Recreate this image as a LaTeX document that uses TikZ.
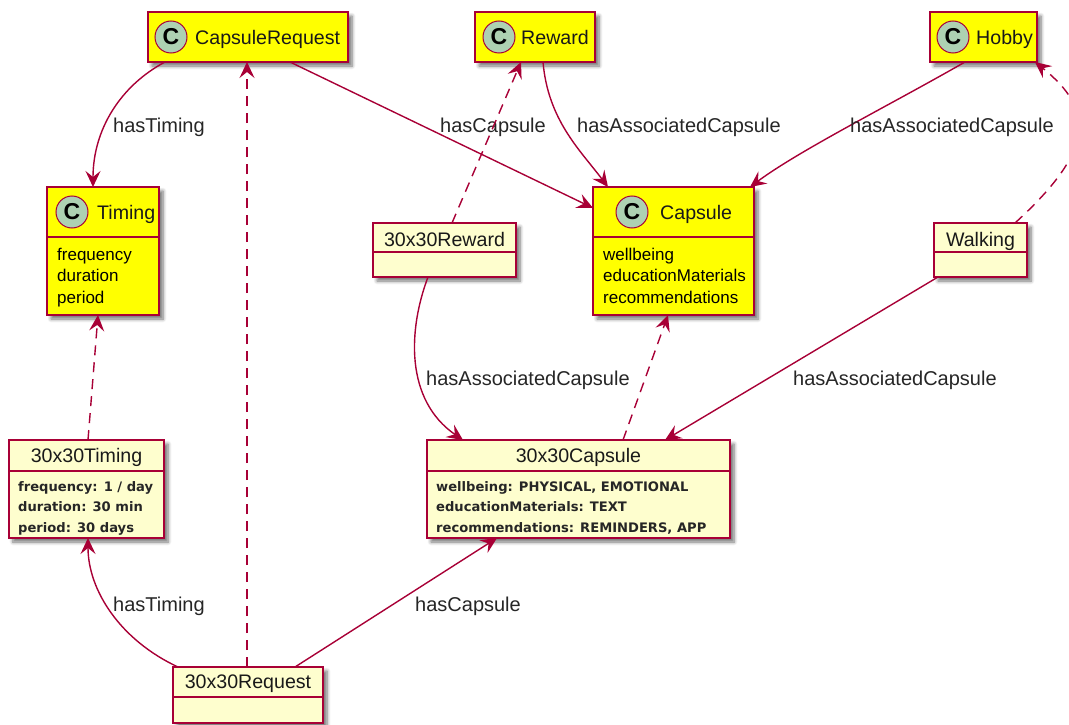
\documentclass[tikz,border=0pt]{standalone}
\usepackage{fontspec}
\setmainfont{Liberation Sans}
\newfontfamily\attrfont{DejaVu Sans}
\usetikzlibrary{arrows.meta,calc,shadows.blur}

\definecolor{umlborder}{HTML}{A80036}
\definecolor{umlyellow}{HTML}{FFFF00}
\definecolor{umlcream}{HTML}{FEFECE}
\definecolor{umlicon}{HTML}{ADD1B2}

\tikzset{
  box/.style={draw=umlborder, line width=1.5pt, inner sep=0pt, outer sep=0pt,
    anchor=north west,
    blur shadow={shadow xshift=4pt, shadow yshift=-4pt, shadow blur steps=6,
      shadow blur radius=3.5pt, shadow opacity=55}},
  classbox/.style={box, fill=umlyellow},
  objbox/.style={box, fill=umlcream},
  sepline/.style={draw=umlborder, line width=1.5pt},
  icon/.style={circle, draw=umlborder, fill=umlicon, line width=1pt,
    minimum size=32pt, inner sep=0pt,
    font=\fontsize{23}{23}\selectfont\bfseries, text=black},
  title/.style={font=\fontsize{19.6}{20}\selectfont, inner sep=0pt, text=black!90},
  attr/.style={font=\fontsize{17}{20}\selectfont, inner sep=0pt, anchor=base west, text=black},
  oattr/.style={font=\attrfont\bfseries\fontsize{13.1}{20}\selectfont, inner sep=0pt, anchor=base west, text=black!85},
  rel/.style={draw=umlborder, line width=1.4pt,
    -{Stealth[length=16pt, width=15pt, inset=6pt]}},
  dep/.style={rel, dash pattern=on 10pt off 7pt},
  lbl/.style={font=\fontsize{20}{20}\selectfont, inner sep=0pt, anchor=base west, text=black!85},
}

\begin{document}
\begin{tikzpicture}[x=1pt, y=-1pt]
\useasboundingbox (0,0) rectangle (1069,725);

% ---- classes ----
\node[classbox, minimum width=200pt, minimum height=50pt] (cr) at (148,12) {};
\node[icon] (cri) at (171,37) {C};
\node[title, anchor=base west] (crt) at (195,45) {CapsuleRequest};

\node[classbox, minimum width=120pt, minimum height=50pt] (rw) at (475,12) {};
\node[icon] (rwi) at (499,37) {C};
\node[title, anchor=base west] (rwt) at (521,45) {Reward};

\node[classbox, minimum width=107pt, minimum height=50pt] (hb) at (930,12) {};
\node[icon] (hbi) at (953,37) {C};
\node[title, anchor=base west] (hbt) at (976,45) {Hobby};

\node[classbox, minimum width=112pt, minimum height=128pt] (tm) at (47,187) {};
\draw[sepline] (tm.north west) ++(0,50) coordinate (tms) -- (tms -| tm.east);
\node[icon] (tmi) at (72,212) {C};
\node[title, anchor=base west] (tmt) at (97,219) {Timing};
\node[attr] (tma) at (57,260) {frequency};
\node[attr] (tmb) at (57,281.5) {duration};
\node[attr] (tmc) at (57,303) {period};

\node[classbox, minimum width=161pt, minimum height=128pt] (cp) at (593,187) {};
\draw[sepline] (cp.north west) ++(0,50) coordinate (cps) -- (cps -| cp.east);
\node[icon] (cpi) at (632,212) {C};
\node[title, anchor=base west] (cpt) at (660,219) {Capsule};
\node[attr] (cpa) at (603,260) {wellbeing};
\node[attr] (cpb) at (603,281.5) {educationMaterials};
\node[attr] (cpc) at (603,303) {recommendations};

% ---- instances ----
\node[objbox, minimum width=143pt, minimum height=54pt] (rr) at (373,223) {};
\draw[sepline] (rr.north west) ++(0,29) coordinate (rrs) -- (rrs -| rr.east);
\node[title, anchor=base] (rrt) at (444.5,246) {30x30Reward};

\node[objbox, minimum width=93pt, minimum height=54pt] (wk) at (934,223) {};
\draw[sepline] (wk.north west) ++(0,29) coordinate (wks) -- (wks -| wk.east);
\node[title, anchor=base] (wkt) at (980.5,246) {Walking};

\node[objbox, minimum width=155pt, minimum height=98pt] (ot) at (9,440) {};
\draw[sepline] (ot.north west) ++(0,31) coordinate (ots) -- (ots -| ot.east);
\node[title, anchor=base] (ott) at (86.5,462) {30x30Timing};
\node[oattr] (ota) at (18,491) {frequency: 1 / day};
\node[oattr] (otb) at (18,511.5) {duration: 30 min};
\node[oattr] (otc) at (18,532) {period: 30 days};

\node[objbox, minimum width=303pt, minimum height=98pt] (oc) at (427,440) {};
\draw[sepline] (oc.north west) ++(0,31) coordinate (ocs) -- (ocs -| oc.east);
\node[title, anchor=base] (oct) at (578.5,462) {30x30Capsule};
\node[oattr] (oca) at (436,491) {wellbeing: PHYSICAL, EMOTIONAL};
\node[oattr] (ocb) at (436,511.5) {educationMaterials: TEXT};
\node[oattr] (occ) at (436,532) {recommendations: REMINDERS, APP};

\node[objbox, minimum width=150pt, minimum height=56pt] (rq) at (173,667) {};
\draw[sepline] (rq.north west) ++(0,30) coordinate (rqs) -- (rqs -| rq.east);
\node[title, anchor=base] (rqt) at (248,688) {30x30Request};

% ---- relations ----
\draw[rel] ([xshift=17pt]cr.south west) .. controls (120,86) and (93,130) .. ([xshift=46pt]tm.north west);
\node[lbl] (l1) at (113,132) {hasTiming};

\draw[rel] ([xshift=142pt]cr.south west) -- ([yshift=-21pt]cp.north west);
\node[lbl] (l2) at (440,132) {hasCapsule};

\draw[rel] ([xshift=68pt]rw.south west) .. controls (548,120) and (580,150) .. ([xshift=15pt]cp.north west);
\node[lbl] (l3) at (577,132) {hasAssociatedCapsule};

\draw[rel] ([xshift=35pt]hb.south west) .. controls (890,105) and (800,150) .. ([xshift=-4pt]cp.north east);
\node[lbl] (l4) at (850,132) {hasAssociatedCapsule};

\draw[dep] ([xshift=79pt]rr.north west) -- ([xshift=46pt]rw.south west);

\draw[dep] ([xshift=81pt]wk.north west) .. controls (1095,150) and (1095,110) .. ([xshift=-2pt]hb.south east);

\draw[rel] ([xshift=55pt]rr.south west) .. controls (408,330) and (405,400) .. ([xshift=36pt]oc.north west);
\node[lbl] (l5) at (426,385) {hasAssociatedCapsule};

\draw[dep] ([xshift=196pt]oc.north west) -- ([xshift=75pt]cp.south west);

\draw[rel] ([xshift=4pt]wk.south west) -- ([xshift=238pt]oc.north west);
\node[lbl] (l6) at (793,385) {hasAssociatedCapsule};

\draw[dep] ([xshift=79pt]ot.north west) -- ([xshift=51pt]tm.south west);

\draw[rel] ([xshift=5pt]rq.north west) .. controls (120,640) and (88,590) .. ([xshift=79pt]ot.south west);
\node[lbl] (l7) at (113,611) {hasTiming};

\draw[dep] ([xshift=74pt]rq.north west) -- ([xshift=99pt]cr.south west);

\draw[rel] ([xshift=122pt]rq.north west) -- ([xshift=70pt]oc.south west);
\node[lbl] (l8) at (415,611) {hasCapsule};
\end{tikzpicture}
\end{document}
